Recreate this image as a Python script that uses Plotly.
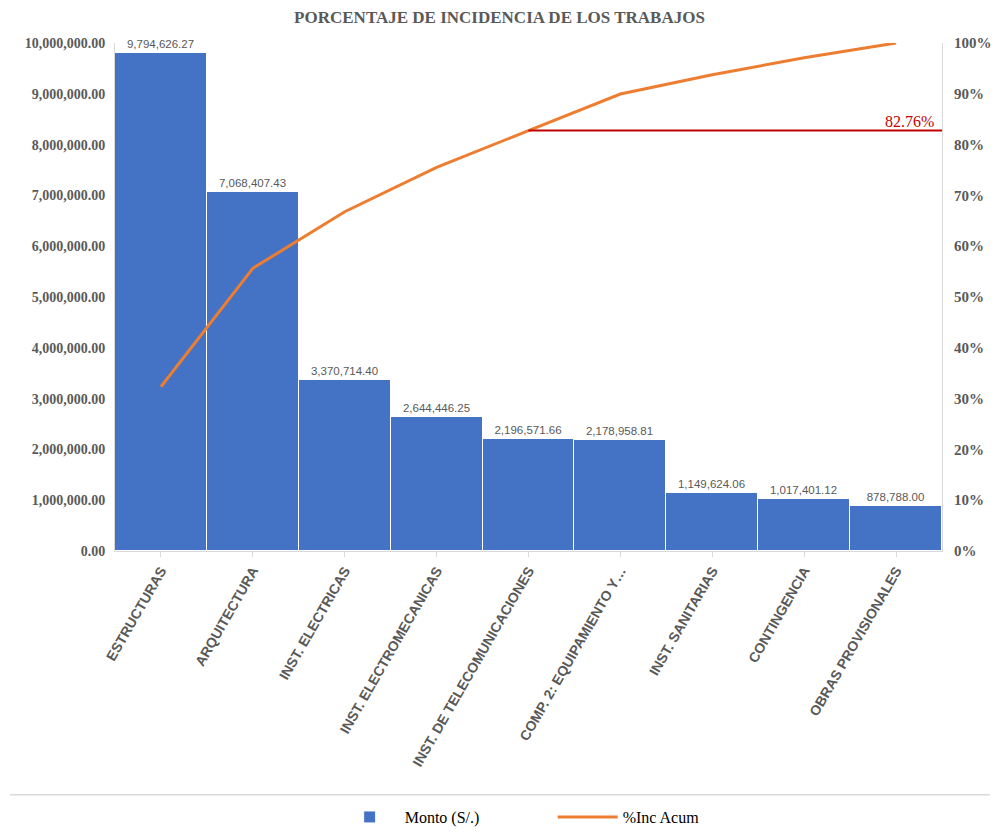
import plotly.graph_objects as go

categories = ["ESTRUCTURAS", "ARQUITECTURA", "INST. ELECTRICAS", "INST. ELECTROMECANICAS",
              "INST. DE TELECOMUNICACIONES", "COMP. 2: EQUIPAMIENTO Y…", "INST. SANITARIAS",
              "CONTINGENCIA", "OBRAS PROVISIONALES"]
monto = [9794626.27, 7068407.43, 3370714.40, 2644446.25, 2196571.66, 2178958.81,
         1149624.06, 1017401.12, 878788.00]
inc_acum = [32.33, 55.65, 66.78, 75.51, 82.76, 89.95, 93.74, 97.10, 100.00]
threshold_value = 82.76
threshold_start_cat = 4  # INST. DE TELECOMUNICACIONES

idx = list(range(len(categories)))
gray = "#595959"
serif = "Liberation Serif, Times New Roman, serif"

fig = go.Figure()
fig.add_trace(go.Bar(
    x=idx, y=monto, name="Monto (S/.)", width=1,
    marker=dict(color="#4472C4", line=dict(color="white", width=1)),
    text=[f"{v:,.2f}" for v in monto], textposition="outside",
    textfont=dict(size=11.5, color=gray, family="Liberation Sans Narrow, Arial Narrow, Arial"),
    cliponaxis=False,
))
fig.add_trace(go.Scatter(
    x=idx, y=inc_acum, name="%Inc Acum", yaxis="y2", mode="lines",
    line=dict(color="#ED7D31", width=3),
))
fig.add_trace(go.Scatter(
    x=[threshold_start_cat, len(categories) - 0.5], y=[threshold_value, threshold_value],
    yaxis="y2", mode="lines", line=dict(color="#C00000", width=2), showlegend=False,
    hoverinfo="skip",
))

fig.add_annotation(x=len(categories) - 0.5, y=threshold_value, xref="x", yref="y2",
                   text=f"{threshold_value:.2f}%", showarrow=False, xanchor="right",
                   yanchor="bottom", xshift=-6, yshift=-1,
                   font=dict(family=serif, size=16, color="#C00000"))

fig.add_shape(type="line", xref="paper", yref="paper", x0=-0.127, x1=1.058,
              y0=-0.480, y1=-0.480, line=dict(color="#D9D9D9", width=1.5))

fig.update_layout(
    width=999, height=832,
    margin=dict(l=115, r=57, t=43, b=281),
    plot_bgcolor="white", paper_bgcolor="white",
    title=dict(text="<b>PORCENTAJE DE INCIDENCIA DE LOS TRABAJOS</b>", x=0.5, xanchor="center",
               y=0.98, yanchor="middle",
               font=dict(family=serif, size=17, color=gray)),
    xaxis=dict(range=[-0.5, len(categories) - 0.5], tickvals=idx, ticktext=categories,
               tickangle=-60, showline=True, linecolor="#D9D9D9", linewidth=1,
               ticks="outside", ticklen=5, tickcolor="#D9D9D9", showgrid=False,
               automargin=False,
               tickfont=dict(family="Liberation Sans, Arial", size=14, color=gray, weight="bold")),
    yaxis=dict(range=[0, 10000000], dtick=1000000, tickformat=",.2f", showgrid=False,
               showline=True, linecolor="#D9D9D9", zeroline=False, automargin=False,
               ticklabelstandoff=6,
               tickfont=dict(family=serif, size=14, color=gray, weight="bold")),
    yaxis2=dict(range=[0, 100], dtick=10, ticksuffix="%", overlaying="y", side="right",
                showgrid=False, showline=True, linecolor="#D9D9D9", zeroline=False,
                automargin=False, ticklabelstandoff=8,
                tickfont=dict(family=serif, size=15, color=gray, weight="bold")),
    legend=dict(orientation="h", x=0.335, xanchor="left", xref="container",
                y=0.018, yanchor="middle", yref="container",
                font=dict(family=serif, size=16, color="black"), itemwidth=60,
                entrywidth=143, entrywidthmode="pixels",
                traceorder="normal"),
    bargap=0,
)

fig.write_html("out.html")
